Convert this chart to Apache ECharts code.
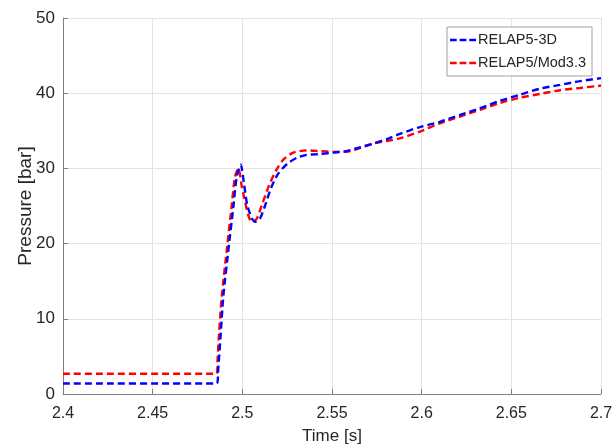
<!DOCTYPE html>
<html>
<head>
<meta charset="utf-8">
<script src="https://cdn.jsdelivr.net/npm/echarts@6/dist/echarts.min.js"></script>
<style>
  html, body { margin: 0; padding: 0; background: #fff; }
  #chart { width: 612px; height: 447px; }
</style>
</head>
<body>
<div id="chart"></div>
<script>
// Pressure transients from the two code versions
const seriesNames = ['RELAP5-3D', 'RELAP5/Mod3.3'];

const time3D = [2.4, 2.4857, 2.4866, 2.4878, 2.4894, 2.4922, 2.495, 2.4969, 2.4991, 2.5008,
  2.5026, 2.5052, 2.5071, 2.5098, 2.5126, 2.5160, 2.5200, 2.5250, 2.5303, 2.5359, 2.5433,
  2.5507, 2.5580, 2.5656, 2.5730, 2.5805, 2.5879, 2.5990, 2.6102, 2.6214, 2.6325, 2.6437,
  2.6548, 2.6660, 2.6771, 2.6883, 2.7];
const pressure3D = [1.4, 1.4, 3.5, 7.5, 13.0, 19.1, 24.9, 28.9, 30.5, 28.2,
  25.3, 23.4, 22.9, 23.3, 25.0, 27.4, 29.3, 30.6, 31.4, 31.8, 31.9,
  32.1, 32.3, 32.8, 33.3, 33.9, 34.6, 35.5, 36.2, 37.1, 38.0, 39.0,
  39.8, 40.6, 41.1, 41.6, 42.0];

const timeMod = [2.4, 2.4857, 2.4862, 2.4870, 2.4885, 2.4913, 2.494, 2.4959, 2.4978, 2.4997,
  2.5015, 2.5033, 2.5052, 2.5080, 2.5110, 2.5150, 2.5190, 2.5230, 2.5284, 2.5359, 2.5433,
  2.5507, 2.5580, 2.5656, 2.5730, 2.5879, 2.5990, 2.6102, 2.6214, 2.6325, 2.6437, 2.6548,
  2.6660, 2.6771, 2.6883, 2.7];
const pressureMod = [2.7, 2.7, 4.5, 8.0, 12.9, 19.1, 24.9, 28.9, 30.0, 27.6,
  25.6, 23.8, 22.9, 23.3, 25.2, 27.8, 29.8, 31.2, 32.1, 32.4, 32.3,
  32.2, 32.2, 32.7, 33.3, 34.0, 34.9, 36.0, 36.9, 37.8, 38.7, 39.4,
  39.9, 40.4, 40.7, 41.0];

const xTicks = { min: 2.4, max: 2.7, step: 0.05 };
const yTicks = { min: 0, max: 50, step: 10 };

const pairs = (xs, ys) => xs.map((x, i) => [x, ys[i]]);

const textColor = '#262626';
const axisColor = '#808080';
const gridColor = '#e3e3e3';
const fontFamily = "'Liberation Sans', Arial, Helvetica, sans-serif";

const dashed = color => ({ color, width: 2.4, type: [7, 4] });
// three short dashes used as the legend key
const dashIcon = 'path://M0,0h7v2.4h-7z M10,0h7v2.4h-7z M20,0h7v2.4h-7z';

const chart = echarts.init(document.getElementById('chart'), null, { renderer: 'canvas' });
chart.setOption({
  animation: false,
  backgroundColor: '#ffffff',
  grid: { left: 63, right: 11, top: 18, bottom: 53, containLabel: false, outerBoundsMode: 'none' },
  legend: {
    right: 20, top: 27,
    orient: 'vertical',
    backgroundColor: '#ffffff',
    borderColor: '#a0a0a0',
    borderWidth: 1,
    padding: [5, 6, 5, 3],
    itemGap: 7,
    itemWidth: 26,
    itemHeight: 2.4,
    textStyle: { fontFamily, fontSize: 14.5, color: textColor, padding: [0, 0, 0, -3], lineHeight: 16 },
    data: seriesNames.map(n => ({ name: n, icon: dashIcon }))
  },
  xAxis: {
    type: 'value',
    min: xTicks.min, max: xTicks.max, interval: xTicks.step,
    name: 'Time [s]',
    nameLocation: 'middle',
    nameGap: 34,
    nameMoveOverlap: false,
    nameTextStyle: { fontFamily, fontSize: 17, color: textColor },
    axisLine: { show: true, onZero: false, lineStyle: { color: axisColor, width: 1 } },
    axisTick: { show: true, inside: true, length: 5, lineStyle: { color: axisColor } },
    axisLabel: {
      fontFamily, fontSize: 16, color: textColor, margin: 12,
      formatter: v => String(+v.toFixed(2))
    },
    splitLine: { show: true, lineStyle: { color: gridColor, width: 1 } }
  },
  yAxis: {
    type: 'value',
    min: yTicks.min, max: yTicks.max, interval: yTicks.step,
    name: 'Pressure [bar]',
    nameLocation: 'middle',
    nameGap: 28,
    nameMoveOverlap: false,
    nameRotate: 90,
    nameTextStyle: { fontFamily, fontSize: 19, color: textColor },
    axisLine: { show: true, lineStyle: { color: axisColor, width: 1 } },
    axisTick: { show: true, inside: true, length: 5, lineStyle: { color: axisColor } },
    axisLabel: { fontFamily, fontSize: 17, color: textColor, margin: 8 },
    splitLine: { show: true, lineStyle: { color: gridColor, width: 1 } }
  },
  series: [
    {
      name: seriesNames[0],
      type: 'line',
      data: pairs(time3D, pressure3D),
      symbol: 'none',
      smooth: 0.25,
      z: 3,
      lineStyle: dashed('#0000ff'),
      itemStyle: { color: '#0000ff' }
    },
    {
      name: seriesNames[1],
      type: 'line',
      data: pairs(timeMod, pressureMod),
      symbol: 'none',
      smooth: 0.25,
      z: 2,
      lineStyle: dashed('#ff0000'),
      itemStyle: { color: '#ff0000' }
    }
  ]
});
</script>
</body>
</html>
